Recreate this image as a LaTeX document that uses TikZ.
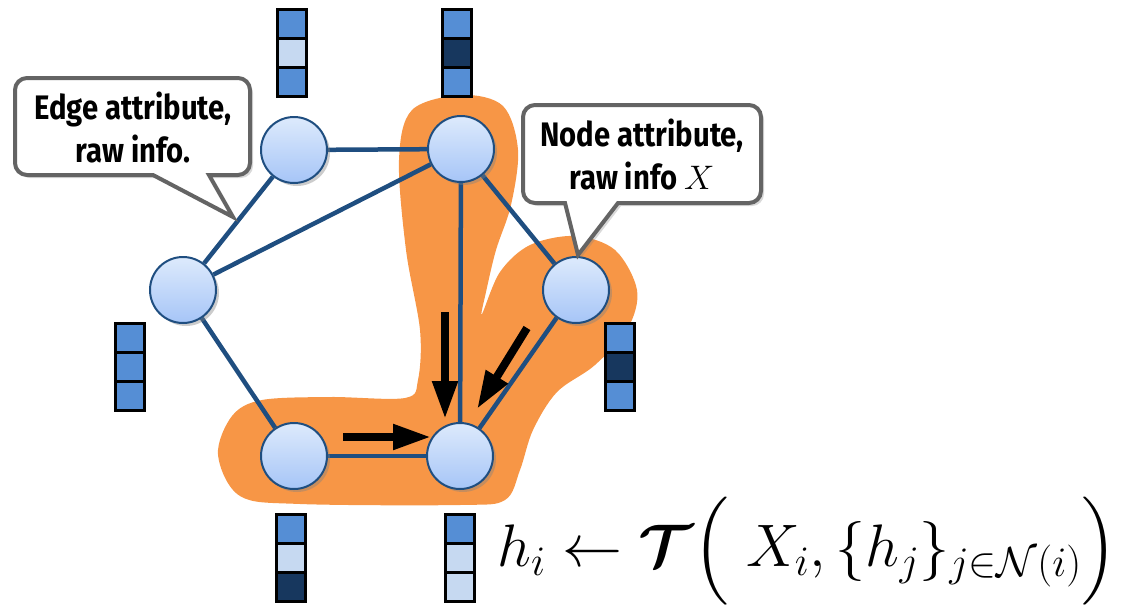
\RequirePackage{fix-cm}
\documentclass[tikz,border=0pt]{standalone}
\usepackage{amsmath,amssymb,bm}
\usepackage{fontspec}
\newfontfamily\calloutfont[FakeStretch=0.86]{Fira Sans}
\usetikzlibrary{positioning,shadows,arrows.meta,backgrounds}

\definecolor{vmid}{HTML}{558ED5}
\definecolor{vlight}{HTML}{C6D9F1}
\definecolor{vdark}{HTML}{17375E}
\definecolor{edgeblue}{HTML}{1F4E80}
\definecolor{nodetop}{HTML}{DDEAFC}
\definecolor{nodebot}{HTML}{A6C5F7}
\definecolor{hilite}{HTML}{F79646}
\definecolor{boxgray}{HTML}{646464}

\tikzset{
  gnode/.style={circle, draw=edgeblue, line width=2pt, minimum size=66pt, inner sep=0pt,
    top color=nodetop, bottom color=nodebot,
    drop shadow={shadow xshift=3pt, shadow yshift=-3pt, opacity=0.4}},
  link/.style={draw=edgeblue, line width=4.5pt},
  cell/.style={draw=black, line width=3pt, minimum size=29pt, inner sep=0pt, outer sep=0pt},
  msg/.style={line width=8pt, -{Triangle[length=38pt,width=24pt]}},
  callout/.style={draw=boxgray, line width=4pt, fill=white, line join=miter,
    drop shadow={shadow xshift=3pt, shadow yshift=-3pt, opacity=0.3}},
  calltext/.style={align=center, font=\calloutfont\bfseries\fontsize{34}{43}\selectfont},
}

% feature vector: name, position, three colours
\newcommand{\featvec}[5]{%
  \node[cell, fill=#3] (#1a) at #2 {};
  \node[cell, fill=#4, below=0pt of #1a] (#1b) {};
  \node[cell, fill=#5, below=0pt of #1b] (#1c) {};
}

\begin{document}
\begin{tikzpicture}[x=1pt,y=-1pt]
\useasboundingbox (0,0) rectangle (1129,605);

% nodes
\node[gnode] (tl) at (294,150) {};
\node[gnode] (tr) at (461,149) {};
\node[gnode] (lf) at (183,290) {};
\node[gnode] (rt) at (576,290) {};
\node[gnode] (bl) at (294,456) {};
\node[gnode] (br) at (460,456) {};

% highlighted neighbourhood and edges, behind the nodes
\begin{scope}[on background layer]
\fill[hilite] plot[smooth cycle, tension=0.55] coordinates {
  (462,95) (503,106) (518,150) (511,205) (496,250) (486,292) (482,314)
  (500,272) (530,245) (575,236) (615,250) (637,290) (628,328) (595,365)
  (557,392) (533,430) (520,470) (505,500) (460,505) (300,504) (240,496)
  (218,455) (232,416) (262,400) (330,397) (405,398) (418,380) (420,330)
  (406,250) (399,160) (412,110)};
\draw[link] (tl) -- (tr);
\draw[link] (tl) -- (lf);
\draw[link] (lf) -- (tr);
\draw[link] (lf) -- (bl);
\draw[link] (tr) -- (br);
\draw[link] (tr) -- (rt);
\draw[link] (rt) -- (br);
\draw[link] (bl) -- (br);
\end{scope}

% messages into the centre node
\coordinate (m1s) at (343,437);
\coordinate (m1e) at (431,437);
\coordinate (m2s) at (445,312);
\coordinate (m2e) at (445,419);
\coordinate (m3s) at (527,328);
\coordinate (m3e) at (477,409);
\draw[msg] (m1s) -- (m1e);
\draw[msg] (m2s) -- (m2e);
\draw[msg] (m3s) -- (m3e);

% feature vectors
\featvec{vtl}{(292,24)}{vmid}{vlight}{vmid}
\featvec{vtr}{(457,24)}{vmid}{vdark}{vmid}
\featvec{vlf}{(130,338)}{vmid}{vmid}{vmid}
\featvec{vrt}{(620,338)}{vmid}{vdark}{vmid}
\featvec{vbl}{(291,529)}{vmid}{vlight}{vdark}
\featvec{vbr}{(460,529)}{vmid}{vlight}{vlight}

% callouts
\draw[callout] (233,217) -- (209,175) [rounded corners=12pt] -- (250,175) -- (250,78)
  -- (15,78) -- (15,175) [sharp corners] -- (153,175) -- cycle;
\node[calltext] (etext) at (133,127) {Edge attribute,\\raw info.};

\draw[callout] (578,255) -- (618,203) [rounded corners=12pt] -- (761,203) -- (761,105)
  -- (523,105) -- (523,203) [sharp corners] -- (565,203) -- cycle;
\node[calltext] (ntext) at (642,154) {Node attribute,\\raw info $X$};

% update rule
\node[anchor=base west, inner sep=0pt, font=\fontsize{60}{72}\selectfont] (rule) at (497,566)
  {$h_i \leftarrow \boldsymbol{\mathcal{T}}\Big(\; X_i, \{h_j\}_{j\in\mathcal{N}(i)}\Big)$};
\end{tikzpicture}
\end{document}
